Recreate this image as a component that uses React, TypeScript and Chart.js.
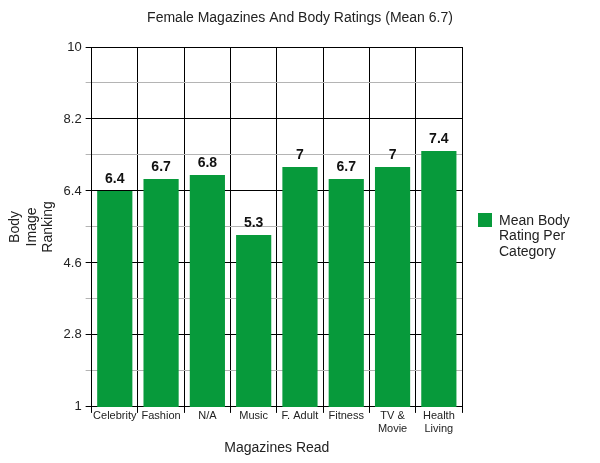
import { useEffect, useRef } from 'react'
import { Chart, registerables } from 'chart.js'

Chart.register(...registerables)

const chartTitle = 'Female Magazines And Body Ratings (Mean 6.7)'
const categories: (string | string[])[] = [
  'Celebrity',
  'Fashion',
  'N/A',
  'Music',
  'F. Adult',
  'Fitness',
  ['TV &', 'Movie'],
  ['Health', 'Living']
]
const meanRatings = [6.4, 6.7, 6.8, 5.3, 7, 6.7, 7, 7.4]
const majorTicks = [1, 2.8, 4.6, 6.4, 8.2, 10]
const legendLines = ['Mean Body', 'Rating Per', 'Category']

const GREEN = '#079a3b'
const FONT = "'Liberation Sans', Arial, sans-serif"

const isMajor = (v: number) => majorTicks.some(t => Math.abs(t - v) < 0.001)

// title centred on the whole canvas, not just the plot + axes
const pageTitle = {
  id: 'pageTitle',
  afterDraw(chart: any) {
    const ctx = chart.ctx
    ctx.save()
    ctx.font = `14px ${FONT}`
    ctx.fillStyle = '#222'
    ctx.textAlign = 'center'
    ctx.textBaseline = 'middle'
    ctx.fillText(chartTitle, chart.width / 2, 18)
    ctx.restore()
  }
}

// value labels above each bar
const barLabels = {
  id: 'barLabels',
  afterDatasetsDraw(chart: any) {
    const ctx = chart.ctx
    const meta = chart.getDatasetMeta(0)
    ctx.save()
    ctx.font = `bold 14px ${FONT}`
    ctx.fillStyle = '#111'
    ctx.textAlign = 'center'
    ctx.textBaseline = 'bottom'
    meta.data.forEach((bar: any, i: number) => {
      ctx.fillText(String(meanRatings[i]), bar.x, bar.y - 5)
    })
    ctx.restore()
  }
}

// legend on the right with wrapped text
const sideLegend = {
  id: 'sideLegend',
  afterDraw(chart: any) {
    const ctx = chart.ctx
    const x = chart.chartArea.right + 16
    const y = 213
    ctx.save()
    ctx.fillStyle = chart.data.datasets[0].backgroundColor
    ctx.fillRect(x, y, 14, 14)
    ctx.font = `14px ${FONT}`
    ctx.fillStyle = '#222'
    ctx.textAlign = 'left'
    ctx.textBaseline = 'middle'
    legendLines.forEach((line, i) => {
      ctx.fillText(line, x + 21, y + 8 + i * 15.5)
    })
    ctx.restore()
  }
}

export default function App() {
  const canvasRef = useRef<HTMLCanvasElement>(null)

  useEffect(() => {
    document.body.style.margin = '0'
    if (!canvasRef.current) return

    const chart = new Chart(canvasRef.current, {
      type: 'bar',
      data: {
        labels: categories,
        datasets: [
          {
            label: 'Mean Body Rating Per Category',
            data: meanRatings,
            backgroundColor: GREEN,
            borderWidth: 0,
            categoryPercentage: 1,
            barPercentage: 0.76
          }
        ]
      },
      options: {
        responsive: false,
        animation: false,
        layout: {
          padding: { left: 7, right: 138, top: 47, bottom: 6 }
        },
        plugins: {
          legend: { display: false },
          tooltip: { enabled: false },
          title: { display: false }
        },
        scales: {
          x: {
            grid: {
              color: '#000',
              lineWidth: 1,
              offset: true,
              drawTicks: true,
              tickLength: 6,
              tickColor: '#000'
            },
            border: { color: '#000' },
            ticks: {
              color: '#222',
              padding: -3,
              maxRotation: 0,
              autoSkip: false,
              font: { family: FONT, size: 11, lineHeight: 1.15 }
            },
            title: {
              display: true,
              text: 'Magazines Read',
              color: '#222',
              font: { family: FONT, size: 14 },
              padding: { top: 8, bottom: 0 }
            }
          },
          y: {
            min: 1,
            max: 10,
            grid: {
              color: (c: any) => (isMajor(c.tick.value) ? '#000' : '#b4b4b4'),
              tickColor: (c: any) => (isMajor(c.tick.value) ? '#000' : '#b4b4b4'),
              tickLength: 6
            },
            border: { color: '#000' },
            ticks: {
              stepSize: 0.9,
              autoSkip: false,
              padding: 4,
              color: '#222',
              font: { family: FONT, size: 13 },
              callback: (v: any) => (isMajor(Number(v)) ? String(Number(v)) : '')
            },
            title: {
              display: true,
              text: ['Body', 'Image', 'Ranking'],
              color: '#222',
              font: { family: FONT, size: 14, lineHeight: 1.18 },
              padding: { top: 0, bottom: 3 }
            }
          }
        }
      },
      plugins: [barLabels, sideLegend, pageTitle]
    })

    return () => chart.destroy()
  }, [])

  return (
    <div style={{ width: 600, height: 463, background: '#fff' }}>
      <canvas ref={canvasRef} width={600} height={463} />
    </div>
  )
}
